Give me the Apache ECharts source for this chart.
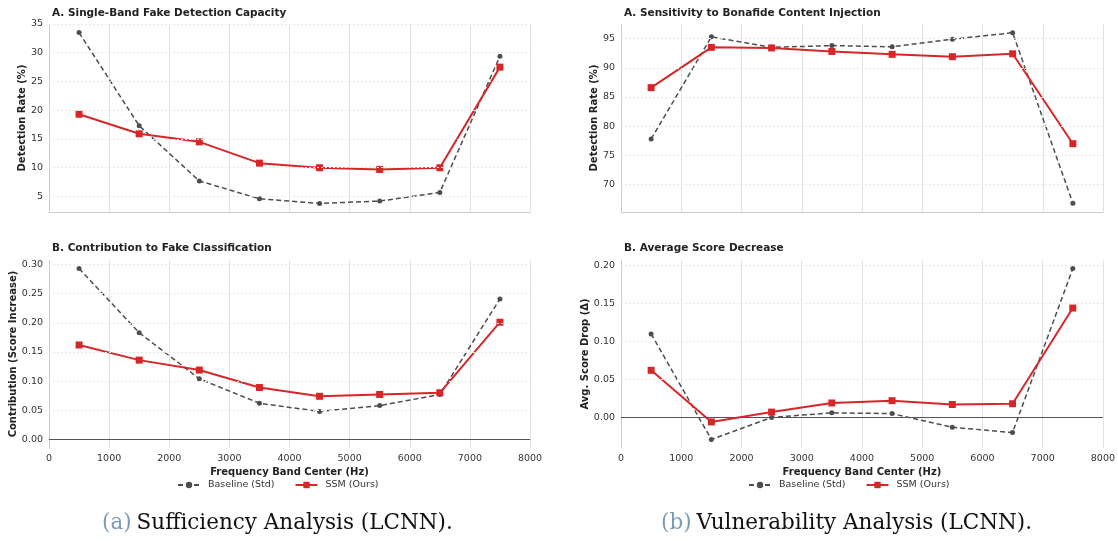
<!DOCTYPE html>
<html>
<head>
<meta charset="utf-8">
<script src="https://cdn.jsdelivr.net/npm/echarts@6/dist/echarts.min.js"></script>
<style>
  html, body { margin: 0; padding: 0; background: #fff; }
  #chart { width: 1118px; height: 541px; }
</style>
</head>
<body>
<div id="chart"></div>
<script>
// frequency band centres (Hz)
const freqs = [500, 1500, 2500, 3500, 4500, 5500, 6500, 7500]
const xTicks = [0, 1000, 2000, 3000, 4000, 5000, 6000, 7000, 8000]

// (a) sufficiency
const suffBaseline = [33.5, 17.3, 7.7, 4.6, 3.8, 4.2, 5.7, 29.4]
const suffSsm = [19.3, 15.9, 14.5, 10.8, 10.0, 9.7, 10.0, 27.5]
const suffTicks = [5, 10, 15, 20, 25, 30, 35]

const contribBaseline = [0.293, 0.183, 0.104, 0.062, 0.048, 0.058, 0.077, 0.241]
const contribSsm = [0.162, 0.136, 0.119, 0.089, 0.074, 0.077, 0.080, 0.201]
const contribTicks = [0, 0.05, 0.10, 0.15, 0.20, 0.25, 0.30]

// (b) vulnerability
const sensBaseline = [77.8, 95.3, 93.5, 93.8, 93.6, 94.9, 96.0, 66.8]
const sensSsm = [86.6, 93.5, 93.4, 92.8, 92.3, 91.9, 92.4, 77.0]
const sensTicks = [70, 75, 80, 85, 90, 95]

const dropBaseline = [0.110, -0.029, 0.000, 0.006, 0.005, -0.013, -0.020, 0.196]
const dropSsm = [0.062, -0.006, 0.007, 0.019, 0.022, 0.017, 0.018, 0.144]
const dropTicks = [0, 0.05, 0.10, 0.15, 0.20]

const FONT = 'DejaVu Sans'
const GRAY = '#4d4d4d'
const RED = '#d62728'

const chart = echarts.init(document.getElementById('chart'))

const pair = (arr) => freqs.map((f, i) => [f, arr[i]])

function xAxis(idx, showLabels) {
  return {
    type: 'value', gridIndex: idx, min: xTicks[0], max: xTicks[xTicks.length - 1], interval: 1000,
    axisLine: { show: true, lineStyle: { color: '#cccccc', width: 1 } },
    axisTick: { show: false },
    axisLabel: {
      show: showLabels, color: '#333', fontFamily: FONT, fontSize: 9.5, margin: 6,
      formatter: (v) => String(v)
    },
    splitLine: { show: true, lineStyle: { color: '#e2e2e2', width: 1 } },
    name: showLabels ? 'Frequency Band Center (Hz)' : '',
    nameLocation: 'middle', nameGap: 19,
    nameTextStyle: { fontFamily: FONT, fontWeight: 'bold', fontSize: 10, color: '#222' }
  }
}

function yAxis(idx, min, max, ticks, name, gap, digits) {
  return {
    type: 'value', gridIndex: idx, min: min, max: max,
    axisLine: { show: true, lineStyle: { color: '#cccccc', width: 1 } },
    axisTick: { show: false, customValues: ticks },
    axisLabel: {
      customValues: ticks, color: '#333', fontFamily: FONT, fontSize: 9.5, margin: 6,
      formatter: (v) => v.toFixed(digits)
    },
    splitLine: { show: false },
    name: name, nameLocation: 'middle', nameRotate: 90, nameGap: gap,
    nameTextStyle: { fontFamily: FONT, fontWeight: 'bold', fontSize: 10, color: '#222' }
  }
}

function gridSeries(idx, ticks, zeroLine) {
  const data = ticks.map(v => ({ yAxis: v, lineStyle: { color: '#e8e8e8', type: [2, 2], width: 1 } }))
  if (zeroLine) data.push({ yAxis: 0, lineStyle: { color: '#555555', type: 'solid', width: 1.2 } })
  return {
    type: 'line', name: 'grid' + idx, xAxisIndex: idx, yAxisIndex: idx, data: [], z: 1,
    markLine: { silent: true, symbol: 'none', label: { show: false }, animation: false, data: data }
  }
}

function lines(idx, base, ssm) {
  return [
    {
      type: 'line', name: 'Baseline (Std)', xAxisIndex: idx, yAxisIndex: idx, data: pair(base),
      symbol: 'circle', symbolSize: 5, z: 3,
      lineStyle: { color: GRAY, width: 1.5, type: [5, 3] },
      itemStyle: { color: GRAY }
    },
    {
      type: 'line', name: 'SSM (Ours)', xAxisIndex: idx, yAxisIndex: idx, data: pair(ssm),
      symbol: 'rect', symbolSize: 7, z: 4,
      lineStyle: { color: RED, width: 2 },
      itemStyle: { color: RED }
    }
  ]
}

const titleStyle = { fontFamily: FONT, fontWeight: 'bold', fontSize: 10.5, color: '#222' }
const legendBase = {
  data: ['Baseline (Std)', 'SSM (Ours)'], top: 475, itemWidth: 22, itemHeight: 8, itemGap: 20,
  textStyle: { fontFamily: FONT, fontSize: 9.5, color: '#333', padding: [0, 0, 0, 3] }
}

const captionRich = {
  tag: { fontFamily: 'DejaVu Serif', fontWeight: 'normal', fontSize: 21.5, color: '#7b9bb8' },
  txt: { fontFamily: 'DejaVu Serif', fontWeight: 'normal', fontSize: 21.5, color: '#111' }
}
const captionStyle = { fontWeight: 'normal', rich: captionRich }

const option = {
  backgroundColor: '#fff',
  animation: false,
  title: [
    { text: 'A. Single-Band Fake Detection Capacity', left: 47, top: 3, textStyle: titleStyle },
    { text: 'B. Contribution to Fake Classification', left: 47, top: 238, textStyle: titleStyle },
    { text: 'A. Sensitivity to Bonafide Content Injection', left: 619, top: 3, textStyle: titleStyle },
    { text: 'B. Average Score Decrease', left: 619, top: 238, textStyle: titleStyle },
    { text: '{tag|(a)} {txt|Sufficiency Analysis (LCNN).}', left: 97, top: 507, textStyle: captionStyle },
    { text: '{tag|(b)} {txt|Vulnerability Analysis (LCNN).}', left: 656, top: 507, textStyle: captionStyle }
  ],
  legend: [
    Object.assign({ left: 172 }, legendBase),
    Object.assign({ left: 743 }, legendBase)
  ],
  grid: [
    { left: 49, width: 481, top: 24, height: 188 },
    { left: 49, width: 481, top: 260, height: 188 },
    { left: 621, width: 482, top: 24, height: 188 },
    { left: 621, width: 482, top: 260, height: 188 }
  ],
  xAxis: [xAxis(0, false), xAxis(1, true), xAxis(2, false), xAxis(3, true)],
  yAxis: [
    yAxis(0, 2.3, 35.0, suffTicks, 'Detection Rate (%)', 22, 0),
    yAxis(1, -0.0147, 0.3077, contribTicks, 'Contribution (Score Increase)', 31, 2),
    yAxis(2, 65.3, 97.5, sensTicks, 'Detection Rate (%)', 22, 0),
    yAxis(3, -0.0403, 0.2073, dropTicks, 'Avg. Score Drop (\u0394)', 31, 2)
  ],
  series: [
    gridSeries(0, suffTicks, false),
    gridSeries(1, contribTicks, true),
    gridSeries(2, sensTicks, false),
    gridSeries(3, dropTicks, true),
    ...lines(0, suffBaseline, suffSsm),
    ...lines(1, contribBaseline, contribSsm),
    ...lines(2, sensBaseline, sensSsm),
    ...lines(3, dropBaseline, dropSsm)
  ]
}

chart.setOption(option)
window.addEventListener('resize', () => chart.resize())
</script>
</body>
</html>
